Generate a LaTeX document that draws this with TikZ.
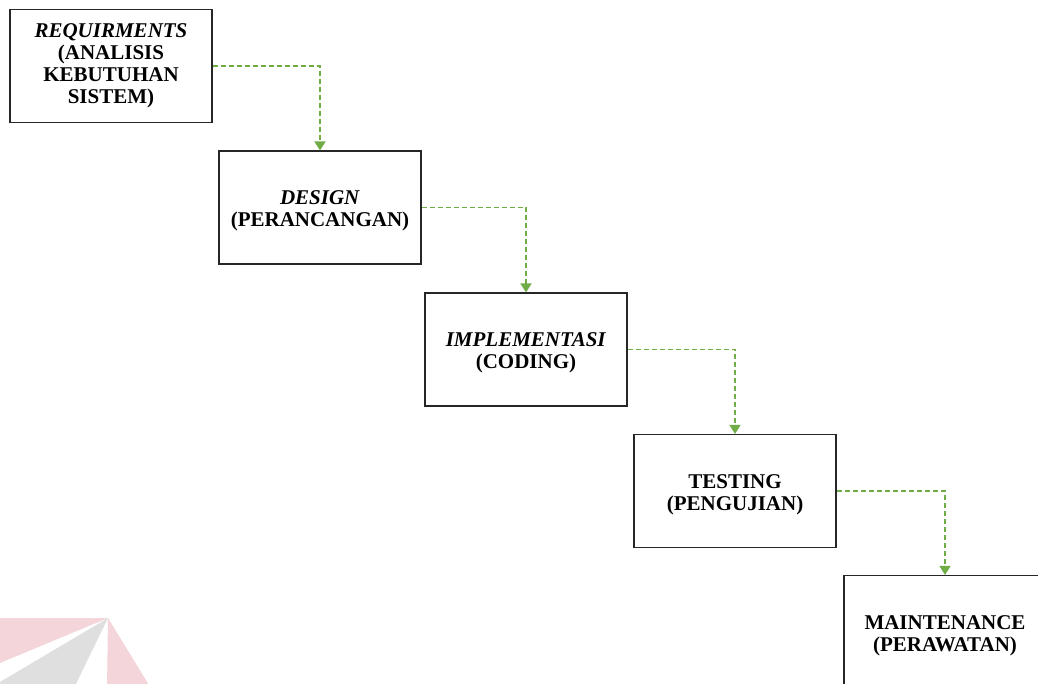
\documentclass[tikz,border=0pt]{standalone}
\usepackage{fontspec}
\setmainfont{Liberation Serif}
\usetikzlibrary{arrows.meta}
\definecolor{flowgreen}{HTML}{70AD47}
\definecolor{wmpink}{HTML}{F3D5DA}
\definecolor{wmgray}{HTML}{DFDFDF}
\newcommand{\topstrut}{\rule{0pt}{21pt}}
\begin{document}
\begin{tikzpicture}[x=1pt,y=-1pt,
  phase/.style={draw=black!85, line width=1.1pt, fill=white, minimum width=202pt, minimum height=113pt,
    inner sep=0pt, align=center, font=\fontsize{21}{22}\selectfont\bfseries},
  flow/.style={draw=flowgreen, line width=1.5pt, dash pattern=on 5pt off 3pt,
    -{Triangle[length=9pt,width=11pt,fill=flowgreen]}}]
\useasboundingbox (0,0) rectangle (1038,684);
\begin{scope}
\clip (0,0) rectangle (1038,684);
\fill[white] (0,0) rectangle (1038,684);
% watermark
\fill[wmpink] (0,618) -- (108,618) -- (0,663) -- cycle;
\fill[wmgray] (108,618) -- (0,682) -- (0,690) -- (73,690) -- cycle;
\fill[wmpink] (108,618) -- (107,690) -- (152,690) -- cycle;
% boxes
\node[phase] (req) at (111,66) {\textit{REQUIRMENTS}\\(ANALISIS\\KEBUTUHAN\\SISTEM)};
\node[phase] (des) at (320,207.5) {\topstrut\textit{DESIGN}\\(PERANCANGAN)};
\node[phase] (imp) at (526,349.5) {\topstrut\textit{IMPLEMENTASI}\\(CODING)};
\node[phase] (tes) at (735,491) {\topstrut TESTING\\(PENGUJIAN)};
\node[phase] (mai) at (945,632) {\topstrut MAINTENANCE\\(PERAWATAN)};
% connectors
\draw[flow] (req.east) -| (des.north);
\draw[flow] (des.east) -| (imp.north);
\draw[flow] (imp.east) -| (tes.north);
\draw[flow] (tes.east) -| (mai.north);
\end{scope}
\end{tikzpicture}
\end{document}
